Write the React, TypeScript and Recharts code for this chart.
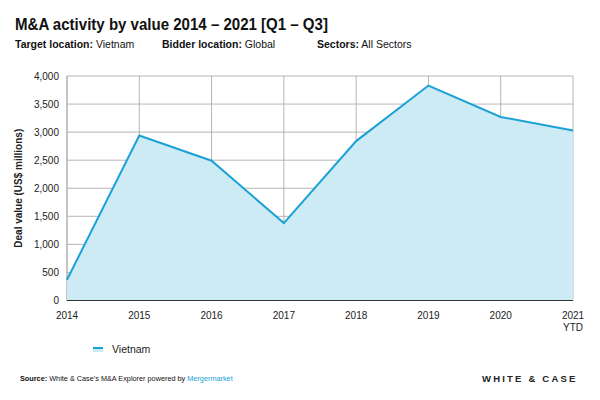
import React from "react";
import { Area, AreaChart, CartesianGrid, XAxis, YAxis } from "recharts";

// años y valores
const years = ["2014", "2015", "2016", "2017", "2018", "2019", "2020", "2021 YTD"];
const vietnam = [370, 2940, 2490, 1380, 2840, 3830, 3270, 3030];
const yTicks = [0, 500, 1000, 1500, 2000, 2500, 3000, 3500, 4000];
const seriesName = "Vietnam";

const data = years.map((year, i) => ({ year, vietnam: vietnam[i] }));

const FONT = "'Liberation Sans', Arial, sans-serif";
const LINE = "#1ba1d6";
const FILL = "#cdebf5";

const YearTick = (props: any) => {
  const { x, y, payload } = props;
  const parts = String(payload.value).split(" ");
  return (
    <text x={x} y={y} textAnchor="middle" fontSize={10} fill="#222" fontFamily={FONT}>
      {parts.map((p, i) => (
        <tspan key={i} x={x} dy={i === 0 ? 10.5 : 12}>
          {p}
        </tspan>
      ))}
    </text>
  );
};

const txt = (left: number, top: number, size: number): React.CSSProperties => ({
  position: "absolute",
  left,
  top,
  fontSize: size,
  color: "#111",
  whiteSpace: "nowrap",
});

export default function App() {
  return (
    <div style={{ position: "absolute", left: 0, top: 0, width: 600, height: 400, background: "#fff", fontFamily: FONT }}>
      <div
        style={{
          ...txt(15, 16, 16),
          fontWeight: "bold",
          transform: "scaleX(0.94)",
          transformOrigin: "left top",
        }}
      >
        M&amp;A activity by value 2014 – 2021 [Q1 – Q3]
      </div>
      <div style={txt(15, 38, 10.5)}>
        <b>Target location:</b> Vietnam
      </div>
      <div style={txt(162, 38, 10.5)}>
        <b>Bidder location:</b> Global
      </div>
      <div style={txt(317, 38, 10.5)}>
        <b>Sectors:</b> All Sectors
      </div>

      <AreaChart
        width={600}
        height={400}
        data={data}
        margin={{ top: 76, right: 27, left: 0, bottom: 69.5 }}
      >
        <CartesianGrid stroke="#a3a3a3" strokeWidth={0.8} />
        <XAxis
          dataKey="year"
          height={30}
          tick={<YearTick />}
          tickLine={false}
          axisLine={{ stroke: "#333", strokeWidth: 1.2 }}
          interval={0}
        />
        <YAxis
          width={67}
          domain={[0, 4000]}
          ticks={yTicks}
          tickFormatter={(v: number) => v.toLocaleString("en-US")}
          tick={{ fontSize: 10, fill: "#222", fontFamily: FONT }}
          tickLine={false}
          tickSize={0}
          tickMargin={8}
          axisLine={false}
          label={{
            value: "Deal value (US$ millions)",
            angle: -90,
            position: "insideLeft",
            offset: 18,
            style: { fontSize: 10, fontWeight: "bold", fill: "#222", fontFamily: FONT, textAnchor: "middle" },
          }}
        />
        <Area
          type="linear"
          dataKey="vietnam"
          name={seriesName}
          stroke={LINE}
          strokeWidth={2}
          fill={FILL}
          fillOpacity={1}
          dot={false}
          activeDot={false}
          isAnimationActive={false}
        />
      </AreaChart>

      {/* leyenda */}
      <div style={{ position: "absolute", left: 93, top: 343, display: "flex", alignItems: "center", fontSize: 10.5, color: "#222" }}>
        <span style={{ width: 10, height: 5, background: FILL, borderTop: `2px solid ${LINE}`, boxSizing: "border-box", marginRight: 9 }} />
        {seriesName}
      </div>

      <div style={txt(20, 374, 7.3)}>
        <b>Source:</b> White &amp; Case's M&amp;A Explorer powered by <span style={{ color: "#1ba1d6" }}>Mergermarket</span>
      </div>
      <div style={{ ...txt(482, 373, 9.5), color: "#222", letterSpacing: 2.2, fontWeight: 600 }}>
        WHITE &amp; CASE
      </div>
    </div>
  );
}
